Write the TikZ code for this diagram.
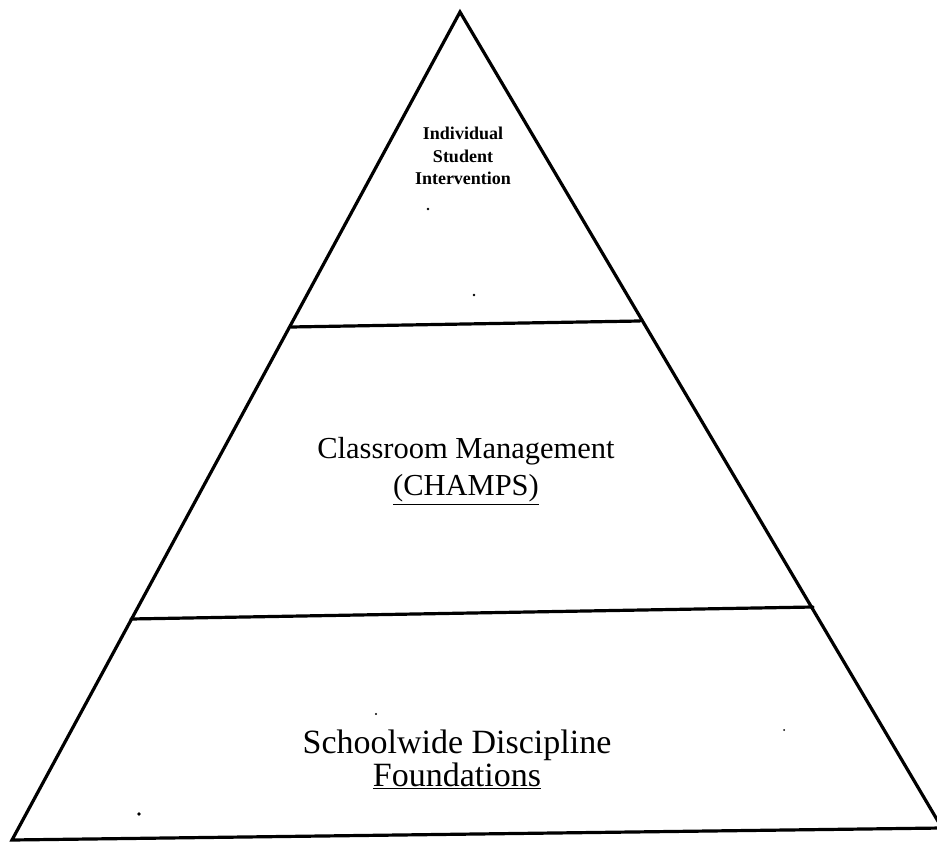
\documentclass[tikz,border=0pt]{standalone}
\usepackage{fontspec}
\setmainfont{Liberation Serif}
\begin{document}
\begin{tikzpicture}[x=1pt,y=-1pt,
  edge/.style={line width=3.2pt,line cap=round,line join=miter},
  tierlabel/.style={align=center,inner sep=0pt},
  speck/.style={fill=black}]
\useasboundingbox (0,0) rectangle (937,842);
% outline of the pyramid
\coordinate (apex) at (460,12);
\coordinate (bl) at (12,840);
\coordinate (br) at (942,828);
\draw[edge] (apex) -- (bl) -- (br) -- cycle;
% tier dividers
\coordinate (d1l) at (291,327);
\coordinate (d1r) at (640,321);
\coordinate (d2l) at (131,619);
\coordinate (d2r) at (813,607);
\draw[edge] (d1l) -- (d1r);
\draw[edge] (d2l) -- (d2r);
% tier labels
\node[tierlabel,font=\fontsize{18}{22.5}\selectfont\bfseries] (top) at (463,156)
  {Individual\\Student\\Intervention};
\node[tierlabel,font=\fontsize{30.5}{37}\selectfont] (mid) at (466,471)
  {Classroom Management\\\underline{(CHAMPS)}};
\node[tierlabel,font=\fontsize{34}{33}\selectfont] (base) at (457,759)
  {Schoolwide Discipline\\\underline{Foundations}};
% stray specks
\fill[speck] (428,209) circle (1.3);
\fill[speck] (474,295) circle (1.3);
\fill[speck] (139,814) circle (1.8);
\fill[speck] (376,714) circle (1.2);
\fill[speck] (784,730) circle (1.0);
\end{tikzpicture}
\end{document}
